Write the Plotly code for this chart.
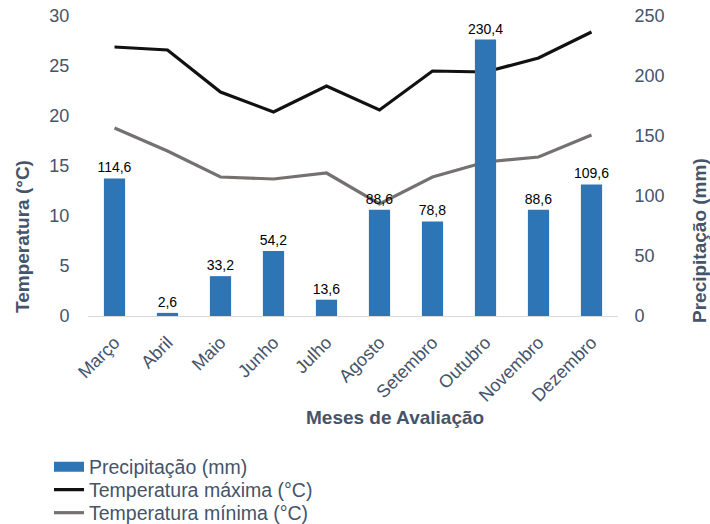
import plotly.graph_objects as go

meses = ["Março", "Abril", "Maio", "Junho", "Julho", "Agosto", "Setembro", "Outubro", "Novembro", "Dezembro"]
precipitacao = [114.6, 2.6, 33.2, 54.2, 13.6, 88.6, 78.8, 230.4, 88.6, 109.6]
temp_max = [26.9, 26.6, 22.4, 20.4, 23.0, 20.6, 24.5, 24.4, 25.8, 28.4]
temp_min = [18.8, 16.5, 13.9, 13.7, 14.3, 11.2, 13.9, 15.4, 15.9, 18.1]

txt_color = "#44546A"
font_family = "Liberation Sans, Arial, sans-serif"
bar_color = "#2E75B6"
max_color = "#111111"
min_color = "#767171"

labels = [f"{v:.1f}".replace(".", ",") for v in precipitacao]

fig = go.Figure()
fig.add_trace(go.Bar(
    x=meses, y=precipitacao, name="Precipitação (mm)", yaxis="y2",
    marker=dict(color=bar_color, line=dict(width=0)),
    text=labels, textposition="outside", cliponaxis=False,
    constraintext="none", showlegend=False,
    textfont=dict(size=14, color="#000000", family=font_family),
))
# legend-only entry drawn as a wide rectangle swatch like the original
fig.add_trace(go.Scatter(
    x=[None], y=[None], name="Precipitação (mm)", mode="lines",
    line=dict(color=bar_color, width=10), legend="legend",
))
fig.add_trace(go.Scatter(
    x=meses, y=temp_max, name="Temperatura máxima (°C)", mode="lines",
    line=dict(color=max_color, width=3.2), legend="legend2",
))
fig.add_trace(go.Scatter(
    x=meses, y=temp_min, name="Temperatura mínima (°C)", mode="lines",
    line=dict(color=min_color, width=3.2), legend="legend3",
))

def leg(ypix):
    return dict(
        x=49 / 710, y=(524 - ypix) / 524, xref="container", yref="container",
        xanchor="left", yanchor="middle", orientation="v",
        font=dict(size=19.5, color=txt_color), itemwidth=30,
        bgcolor="rgba(0,0,0,0)", borderwidth=0,
    )

fig.update_layout(
    width=710, height=524,
    margin=dict(l=88, r=92, t=16, b=208, autoexpand=False),
    paper_bgcolor="white", plot_bgcolor="white",
    font=dict(family=font_family, color=txt_color),
    bargap=0.6,
    showlegend=True,
    legend=leg(467), legend2=leg(490), legend3=leg(513),
    xaxis=dict(
        tickangle=-45, tickfont=dict(size=18, color=txt_color),
        showline=True, linecolor="#D9D9D9", linewidth=1,
        ticks="outside", ticklen=8, tickcolor="rgba(0,0,0,0)",
        showgrid=False, automargin=False,
    ),
    yaxis=dict(
        range=[0, 30], dtick=5, showgrid=False, zeroline=False, automargin=False,
        tickfont=dict(size=18, color=txt_color),
        ticks="outside", ticklen=14, tickcolor="rgba(0,0,0,0)",
    ),
    yaxis2=dict(
        range=[0, 250], dtick=50, overlaying="y", side="right", automargin=False,
        showgrid=False, zeroline=False,
        tickfont=dict(size=18, color=txt_color),
        ticks="outside", ticklen=12, tickcolor="rgba(0,0,0,0)",
    ),
    annotations=[
        dict(text="<b>Temperatura (°C)</b>", textangle=-90, showarrow=False,
             xref="paper", yref="paper", x=(22 - 88) / 530, y=(316 - 237) / 300,
             xanchor="center", yanchor="middle", font=dict(size=19, color=txt_color)),
        dict(text="<b>Precipitação (mm)</b>", textangle=-90, showarrow=False,
             xref="paper", yref="paper", x=(699 - 88) / 530, y=(316 - 241) / 300,
             xanchor="center", yanchor="middle", font=dict(size=19, color=txt_color)),
        dict(text="<b>Meses de Avaliação</b>", showarrow=False,
             xref="paper", yref="paper", x=(395 - 88) / 530, y=(316 - 417) / 300,
             xanchor="center", yanchor="middle", font=dict(size=19, color=txt_color)),
    ],
)

fig.write_html("out.html")
